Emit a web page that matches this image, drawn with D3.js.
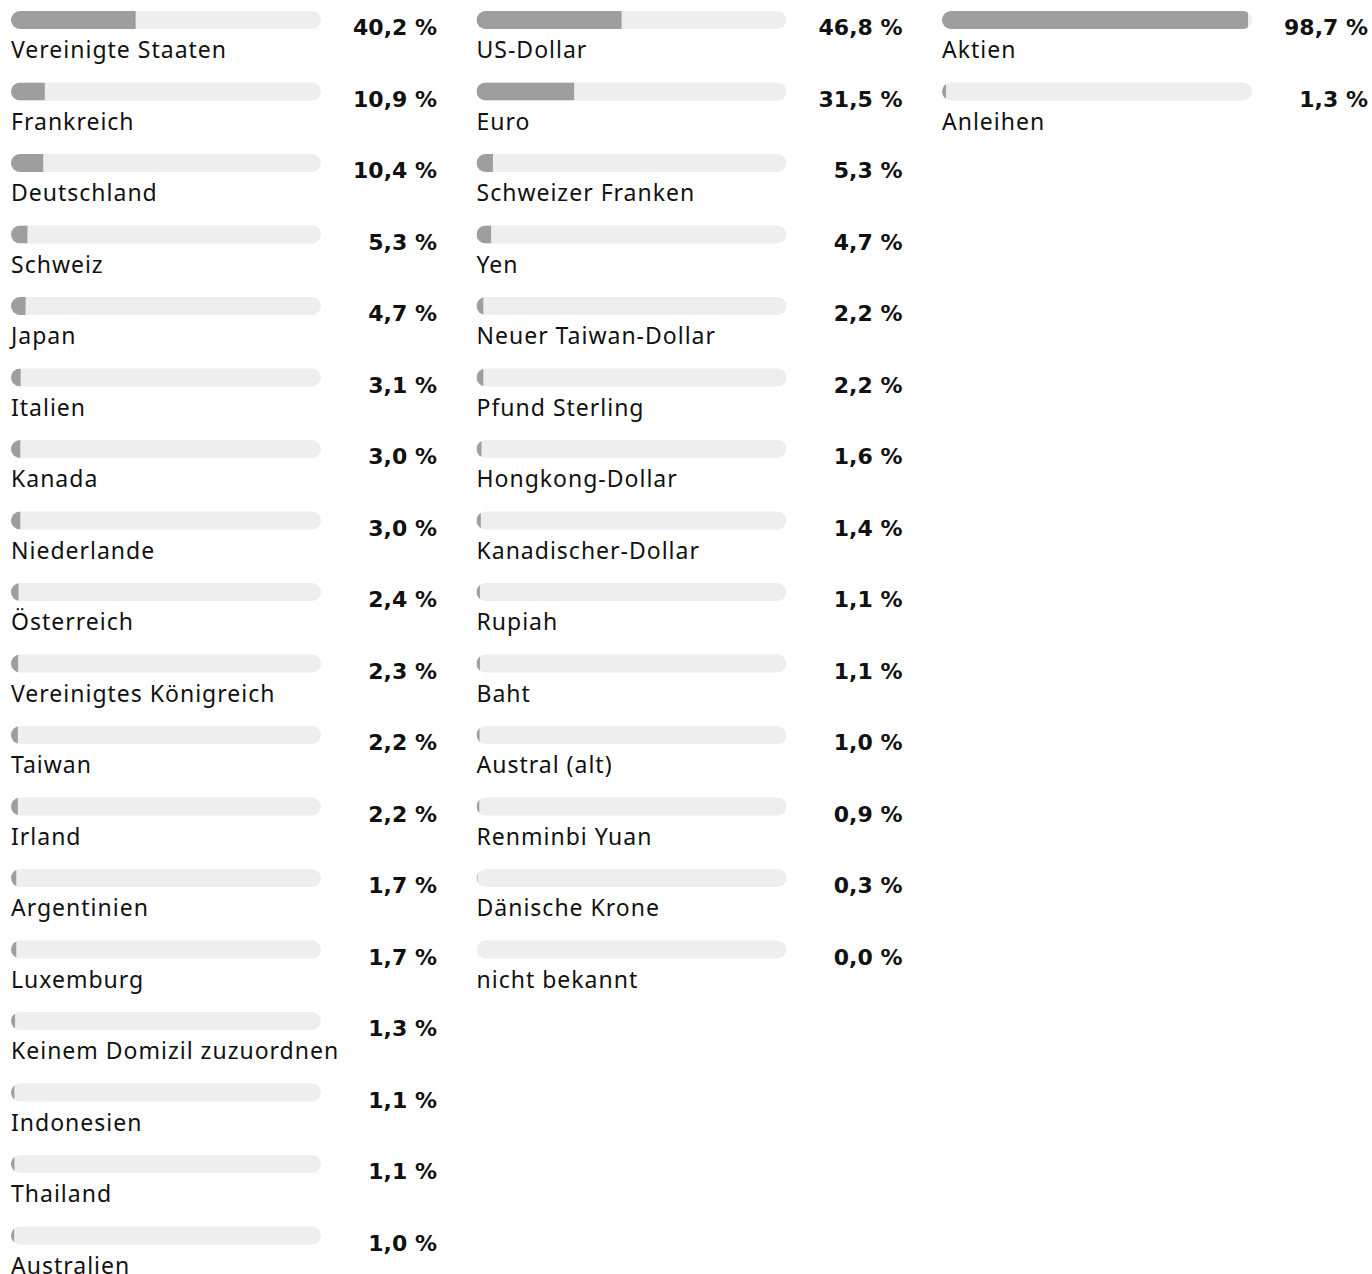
<!DOCTYPE html>
<html lang="de">
<head>
<meta charset="utf-8">
<script src="https://cdn.jsdelivr.net/npm/d3@7"></script>
<style>
  html, body { margin: 0; padding: 0; background: #ffffff; }
  svg { display: block; }
  .label { font-family: "Noto Sans", sans-serif; font-size: 23px; letter-spacing: 1px; fill: #111; }
  .value { font-family: "DejaVu Sans", sans-serif; font-size: 22px; font-weight: 700; fill: #111; }
</style>
</head>
<body>
<svg id="chart" width="1372" height="1274"></svg>
<script>
// Länder
const countryNames = ["Vereinigte Staaten", "Frankreich", "Deutschland", "Schweiz", "Japan", "Italien",
  "Kanada", "Niederlande", "Österreich", "Vereinigtes Königreich", "Taiwan", "Irland",
  "Argentinien", "Luxemburg", "Keinem Domizil zuzuordnen", "Indonesien", "Thailand", "Australien"];
const countryValues = [40.2, 10.9, 10.4, 5.3, 4.7, 3.1, 3.0, 3.0, 2.4, 2.3, 2.2, 2.2, 1.7, 1.7, 1.3, 1.1, 1.1, 1.0];

// Währungen
const currencyNames = ["US-Dollar", "Euro", "Schweizer Franken", "Yen", "Neuer Taiwan-Dollar", "Pfund Sterling",
  "Hongkong-Dollar", "Kanadischer-Dollar", "Rupiah", "Baht", "Austral (alt)", "Renminbi Yuan",
  "Dänische Krone", "nicht bekannt"];
const currencyValues = [46.8, 31.5, 5.3, 4.7, 2.2, 2.2, 1.6, 1.4, 1.1, 1.1, 1.0, 0.9, 0.3, 0.0];

// Anlageklassen
const assetNames = ["Aktien", "Anleihen"];
const assetValues = [98.7, 1.3];

const groups = [
  { names: countryNames, values: countryValues },
  { names: currencyNames, values: currencyValues },
  { names: assetNames, values: assetValues }
];

const svg = d3.select("#chart");
const trackWidth = 310, barHeight = 18, rowStep = 71.5, firstRowY = 11;
const colX = d3.scaleLinear().domain([0, 2]).range([11, 942]);
const x = d3.scaleLinear().domain([0, 100]).range([0, trackWidth]);
const y = d3.scaleLinear().domain([0, 1]).range([firstRowY, firstRowY + rowStep]);
const fmt = v => d3.format(".1f")(v).replace(".", ",") + " %";

groups.forEach((g, gi) => {
  const col = svg.append("g").attr("transform", `translate(${colX(gi)},0)`);
  const rows = col.selectAll("g.row")
    .data(g.names.map((n, i) => ({ name: n, value: g.values[i], i })))
    .join("g")
    .attr("class", "row")
    .attr("transform", d => `translate(0,${y(d.i)})`);

  // rounded track doubles as the clip shape for the filled part
  rows.append("clipPath")
    .attr("id", d => `clip-${gi}-${d.i}`)
    .append("rect")
    .attr("width", trackWidth).attr("height", barHeight)
    .attr("rx", barHeight / 2).attr("ry", barHeight / 2);

  rows.append("rect")
    .attr("width", trackWidth).attr("height", barHeight)
    .attr("rx", barHeight / 2).attr("ry", barHeight / 2)
    .attr("fill", "#eeeeee");

  rows.append("rect")
    .attr("width", d => x(d.value)).attr("height", barHeight)
    .attr("fill", "#9e9e9e")
    .attr("clip-path", d => `url(#clip-${gi}-${d.i})`);

  rows.append("text")
    .attr("class", "value")
    .attr("x", 426).attr("y", 24)
    .attr("text-anchor", "end")
    .text(d => fmt(d.value));

  rows.append("text")
    .attr("class", "label")
    .attr("x", 0).attr("y", 47)
    .text(d => d.name);
});
</script>
</body>
</html>
